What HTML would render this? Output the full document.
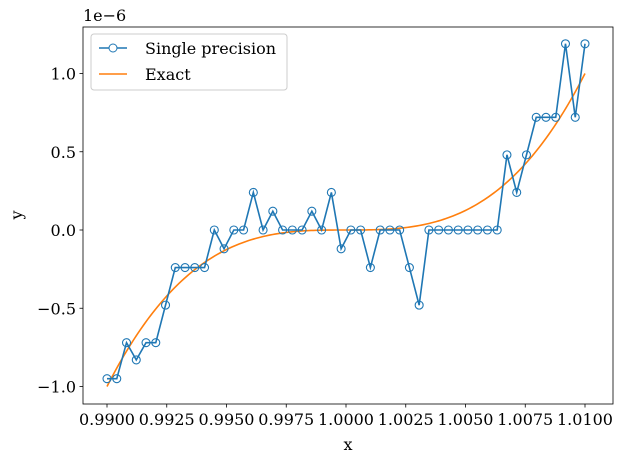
<!DOCTYPE html>
<html><head><meta charset="utf-8"><style>
body{margin:0;background:#fff}
svg text{font-family:"DejaVu Serif","Liberation Serif",serif;font-size:16px;fill:#000}
</style></head><body>
<svg id="chart" width="623" height="463" xmlns="http://www.w3.org/2000/svg"></svg>
<script>
const xStart = 0.99, xEnd = 1.01, nPts = 50;
const singleVals = [-0.95,-0.95,-0.72,-0.83,-0.72,-0.72,-0.48,-0.24,-0.24,-0.24,-0.24,0,-0.12,0,0,0.24,0,0.12,0,0,0,0.12,0,0.24,-0.12,0,0,-0.24,0,0,0,-0.24,-0.48,0,0,0,0,0,0,0,0,0.48,0.24,0.48,0.72,0.72,0.72,1.19,0.72,1.19];
const xTicks = [0.99,0.9925,0.995,0.9975,1.0,1.0025,1.005,1.0075,1.01];
const xTickLabels = ["0.9900","0.9925","0.9950","0.9975","1.0000","1.0025","1.0050","1.0075","1.0100"];
const yTicks = [-1.0,-0.5,0.0,0.5,1.0];
const yTickLabels = ["\u22121.0","\u22120.5","0.0","0.5","1.0"];

const svg = document.getElementById('chart');
const NS = 'http://www.w3.org/2000/svg';
const L=83,R=613,T=27,B=404;
const X = v => 107 + (v-0.99)/0.02*478;
const Y = v => 230 - v*156.5;
function mk(tag, attrs, parent){const e=document.createElementNS(NS,tag);for(const k in attrs)e.setAttribute(k,attrs[k]);(parent||svg).appendChild(e);return e;}

const xs = singleVals.map((_,i)=>xStart+(xEnd-xStart)*i/(nPts-1));

let d='';
for(let i=0;i<200;i++){const x=xStart+(xEnd-xStart)*i/199;const y=Math.pow(x-1,3)*1e6;d+=(i?'L':'M')+X(x).toFixed(2)+','+Y(y).toFixed(2);}
const ex = mk('path',{d,fill:'none',stroke:'#ff7f0e','stroke-width':1.6});



const sp = mk('path',{d:singleVals.map((v,i)=>(i?'L':'M')+X(xs[i]).toFixed(2)+','+Y(v).toFixed(2)).join(''),fill:'none',stroke:'#1f77b4','stroke-width':1.6});


singleVals.forEach((v,i)=>{
  const c=mk('circle',{cx:X(xs[i]),cy:Y(v),r:4,fill:'none',stroke:'#1f77b4','stroke-width':1.1});
  
  
});

const fr = mk('rect',{x:L,y:T,width:R-L,height:B-T,fill:'none',stroke:'#000','stroke-width':0.8});



xTicks.forEach((v,i)=>{
  mk('line',{x1:X(v),x2:X(v),y1:B,y2:B+3.5,stroke:'#000','stroke-width':0.8});
  const t=mk('text',{x:X(v),y:B+21,'text-anchor':'middle'});t.textContent=xTickLabels[i];
  
  
});
yTicks.forEach((v,i)=>{
  mk('line',{x1:L-3.5,x2:L,y1:Y(v),y2:Y(v),stroke:'#000','stroke-width':0.8});
  const t=mk('text',{x:L-7,y:Y(v)+6,'text-anchor':'end'});t.textContent=yTickLabels[i];
  
  
});
const off=mk('text',{x:83,y:21});off.textContent='1e\u22126';


const xl=mk('text',{x:(L+R)/2,y:450,'text-anchor':'middle'});xl.textContent='x';


const yl=mk('text',{x:22,y:215,'text-anchor':'middle',transform:'rotate(-90 22 215)'});yl.textContent='y';



const lg=mk('g',{});


mk('rect',{x:91,y:34,width:196,height:56,rx:3,fill:'#fff',stroke:'#ccc','stroke-width':1},lg);
mk('line',{x1:99,x2:127,y1:48,y2:48,stroke:'#1f77b4','stroke-width':1.6},lg);
mk('circle',{cx:113,cy:48,r:4,fill:'#fff',stroke:'#1f77b4'},lg);
const t1=mk('text',{x:145,y:54},lg);t1.textContent='Single precision';


mk('line',{x1:99,x2:127,y1:74,y2:74,stroke:'#ff7f0e','stroke-width':1.6},lg);
const t2=mk('text',{x:145,y:80},lg);t2.textContent='Exact';


</script>
</body></html>
